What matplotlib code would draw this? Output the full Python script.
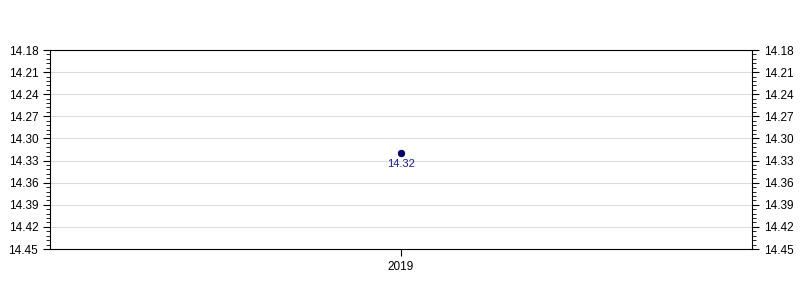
import numpy as np
import matplotlib
matplotlib.use("Agg")
from matplotlib import pyplot as plt
from matplotlib.ticker import FixedLocator, FormatStrFormatter

plt.rcParams['font.family'] = ['Liberation Sans', 'DejaVu Sans']

## data
years = [2019]
values = [14.32]
ymin, ymax = 14.18, 14.45
ystep = 0.03

fig = plt.figure(figsize=(8, 3), dpi=100)
ax = fig.add_axes([0.0625, 0.17, 0.8775, 0.6633])

ax.scatter(years, values, s=22, color='#000080', edgecolor='#000033', linewidth=0.6, zorder=5)
for x, y in zip(years, values):
    ax.annotate(f'{y:.2f}', (x, y), xytext=(0, -4), textcoords='offset points',
                ha='center', va='top', fontsize=8, color='#1a1aa6')

ax.set_xlim(years[0] - 0.5, years[0] + 0.5)
ax.set_xticks(years)
ax.set_xticklabels([str(y) for y in years])
ax.set_ylim(ymax, ymin)  # inverted

major = np.round(np.arange(ymin, ymax + ystep / 2, ystep), 2)
minor = np.round(np.arange(ymin, ymax + ystep / 10, ystep / 5), 3)
ax.yaxis.set_major_locator(FixedLocator(major))
ax.yaxis.set_minor_locator(FixedLocator(minor))
ax.yaxis.set_major_formatter(FormatStrFormatter('%.2f'))
ax.tick_params(axis='y', which='both', left=True, right=True, labelleft=True, labelright=True,
               direction='out', labelsize=8.5)
ax.tick_params(axis='y', which='major', length=5, width=0.8)
ax.tick_params(axis='y', which='minor', length=3, width=0.6)
ax.tick_params(axis='x', which='major', length=5, width=0.8, labelsize=8.5)

ax.grid(axis='y', which='major', color='#dcdcdc', linewidth=0.8)
ax.set_axisbelow(True)
for s in ax.spines.values():
    s.set_linewidth(0.8)

fig.savefig('out.png', dpi=100)
